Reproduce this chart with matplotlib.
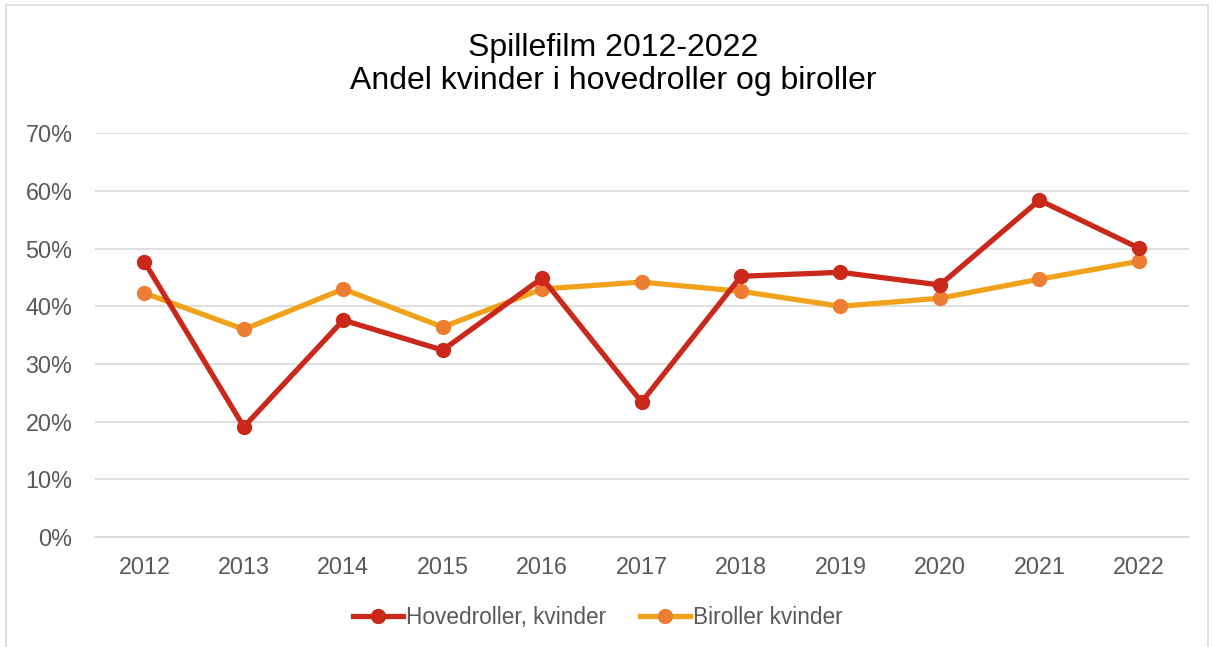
import matplotlib.pyplot as plt
from matplotlib.patches import Rectangle
from matplotlib.ticker import PercentFormatter

plt.rcParams['font.family'] = ['Liberation Sans', 'DejaVu Sans']

# Andel kvinder i spillefilm 2012-2022
years = ['2012', '2013', '2014', '2015', '2016', '2017',
         '2018', '2019', '2020', '2021', '2022']
hovedroller = [0.477, 0.191, 0.376, 0.324, 0.449, 0.234,
               0.452, 0.459, 0.437, 0.584, 0.501]
biroller = [0.423, 0.360, 0.430, 0.364, 0.430, 0.442,
            0.426, 0.400, 0.414, 0.447, 0.478]

fig = plt.figure(figsize=(12.14, 6.47), dpi=100)
fig.patches.append(Rectangle((0.005, -0.01), 0.99, 1.002, transform=fig.transFigure,
                             fill=False, edgecolor='#d9d9d9', linewidth=1.2))
ax = fig.add_axes([0.078, 0.170, 0.901, 0.624])

x = range(len(years))
ax.plot(x, hovedroller, color='#C9281A', linewidth=3.8, marker='o',
        markersize=10, markerfacecolor='#C9281A', markeredgecolor='#C9281A',
        label='Hovedroller, kvinder', zorder=3)
ax.plot(x, biroller, color='#F0A21A', linewidth=3.8, marker='o',
        markersize=10, markerfacecolor='#ED7D31', markeredgecolor='#ED7D31',
        label='Biroller kvinder', zorder=2)

ax.set_xlim(-0.5, len(years) - 0.5)
ax.set_ylim(0, 0.7)
ax.set_yticks([i / 10 for i in range(8)])
ax.yaxis.set_major_formatter(PercentFormatter(1.0, decimals=0))
ax.set_xticks(list(x))
ax.set_xticklabels(years)
ax.tick_params(axis='both', length=0, labelsize=16.8, labelcolor='#595959')
ax.tick_params(axis='x', pad=14)
ax.tick_params(axis='y', pad=16)
ax.grid(axis='y', color='#d9d9d9', linewidth=1.2)
ax.set_axisbelow(True)
for side in ['top', 'right', 'left']:
    ax.spines[side].set_visible(False)
ax.spines['bottom'].set_color('#d9d9d9')
ax.spines['bottom'].set_linewidth(1.2)

fig.text(0.505, 0.9, 'Spillefilm 2012-2022\nAndel kvinder i hovedroller og biroller',
         ha='center', va='center', fontsize=23, color='black', linespacing=1.12)

ax.legend(loc='center', bbox_to_anchor=(0.46, -0.2), ncol=2, frameon=False,
          fontsize=16.3, labelcolor='#595959', handlelength=2.2, handletextpad=0.15,
          columnspacing=1.5)

fig.savefig('out.png', dpi=100)
